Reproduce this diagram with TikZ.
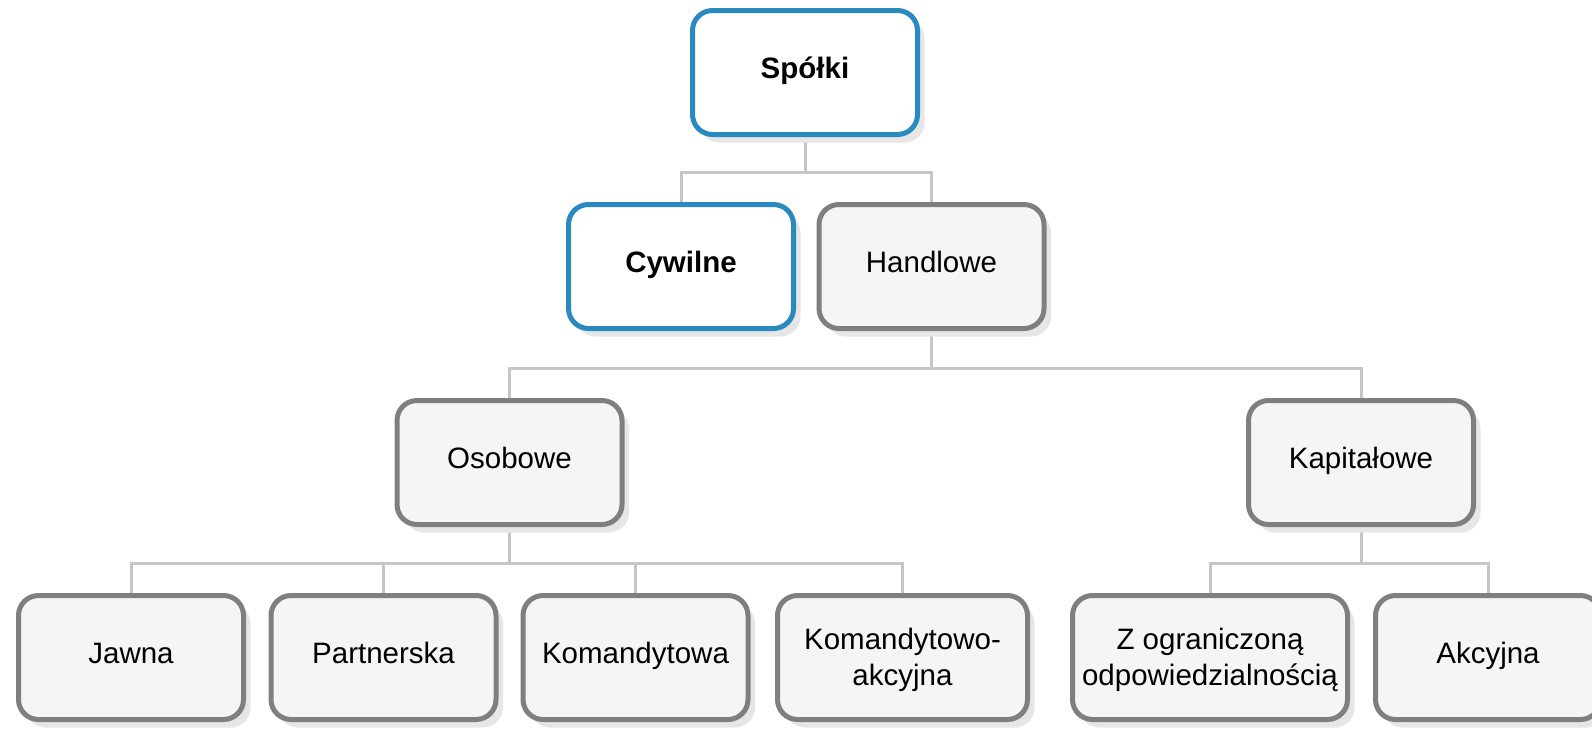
\documentclass[tikz,border=0pt]{standalone}
\usepackage{fontspec}
\setmainfont{Liberation Sans}
\usetikzlibrary{shadows,backgrounds}
\definecolor{bluestroke}{HTML}{2A8AC0}
\definecolor{graystroke}{HTML}{7F7F7F}
\definecolor{grayfill}{HTML}{F5F5F5}
\definecolor{shadowc}{HTML}{E6E6E6}
\definecolor{connc}{HTML}{C6C6C6}
\tikzset{
  box/.style={rectangle, rounded corners=10pt, line width=2.5pt,
    minimum width=112.5pt, minimum height=62pt, align=center, inner sep=2pt,
    text height=10.5pt, text depth=5pt,
    font=\fontsize{14.75}{17.75}\selectfont,
    drop shadow={shadow xshift=3.5pt, shadow yshift=-4pt, fill=shadowc, opacity=1}},
  twoline/.style={text height=28.25pt, text depth=0.75pt},
  graybox/.style={box, draw=graystroke, fill=grayfill},
  bluebox/.style={box, draw=bluestroke, fill=white, font=\fontsize{14.75}{17.75}\selectfont\bfseries},
  conn/.style={draw=connc, line width=1.5pt}
}
\begin{document}
\begin{tikzpicture}[x=0.5pt,y=-0.5pt]
\useasboundingbox (0,0) rectangle (1592,729);
\node[bluebox] (spolki) at (805,72.5) {Spółki};
\node[bluebox] (cywilne) at (681,266.5) {Cywilne};
\node[graybox] (handlowe) at (931.5,266.5) {Handlowe};
\node[graybox] (osobowe) at (509.5,462.5) {Osobowe};
\node[graybox] (kapitalowe) at (1361,462.5) {Kapitałowe};
\node[graybox] (jawna) at (131,657.5) {Jawna};
\node[graybox] (partnerska) at (383.5,657.5) {Partnerska};
\node[graybox] (komandytowa) at (635.5,657.5) {Komandytowa};
\node[graybox, twoline, minimum width=125pt] (komakc) at (902.5,657.5) {Komandytowo-\\akcyjna};
\node[graybox, twoline, minimum width=137.5pt] (zogr) at (1210,657.5) {Z ograniczoną\\odpowiedzialnością};
\node[graybox] (akcyjna) at (1488,657.5) {Akcyjna};
\coordinate (j1) at (805,172);
\coordinate (j2) at (931.5,368);
\coordinate (j3) at (509.5,563);
\coordinate (j4) at (1361,563);
\begin{scope}[on background layer]
\draw[conn] (spolki) -- (j1) -| (cywilne);
\draw[conn] (j1) -| (handlowe);
\draw[conn] (handlowe) -- (j2) -| (osobowe);
\draw[conn] (j2) -| (kapitalowe);
\draw[conn] (osobowe) -- (j3) -| (jawna);
\draw[conn] (j3) -| (partnerska);
\draw[conn] (j3) -| (komandytowa);
\draw[conn] (j3) -| (komakc);
\draw[conn] (kapitalowe) -- (j4) -| (zogr);
\draw[conn] (j4) -| (akcyjna);
\end{scope}
\end{tikzpicture}
\end{document}
